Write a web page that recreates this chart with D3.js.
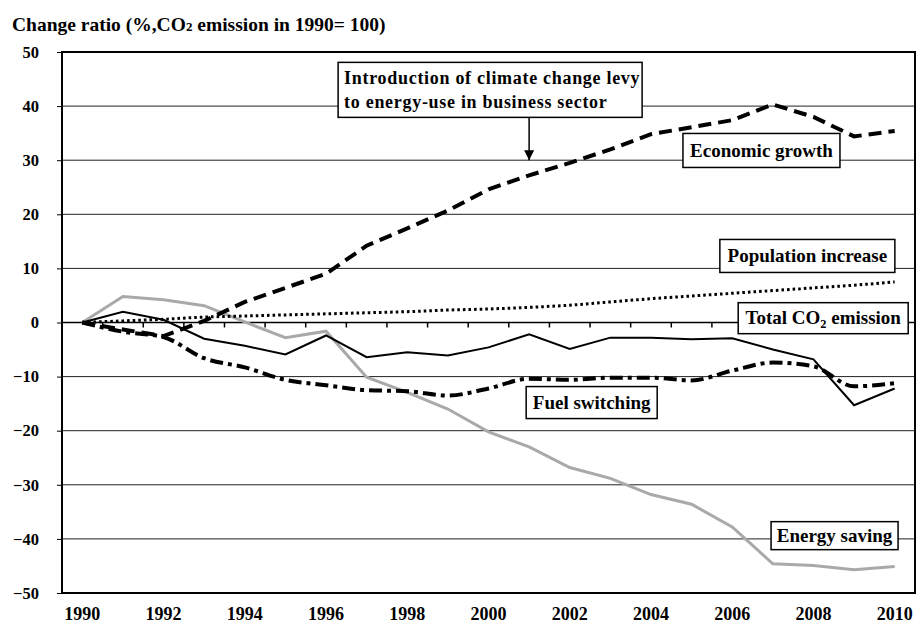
<!DOCTYPE html>
<html>
<head>
<meta charset="utf-8">
<script src="https://cdn.jsdelivr.net/npm/d3@7"></script>
<style>
  body { margin: 0; background: #fff; }
  svg text {
    font-family: "Liberation Serif", "Times New Roman", serif;
    font-weight: bold;
    fill: #000;
  }
</style>
</head>
<body>
<svg class="co2-chart" width="916" height="623"></svg>
<script>
// categories
const years = [1990, 1991, 1992, 1993, 1994, 1995, 1996, 1997, 1998, 1999, 2000,
  2001, 2002, 2003, 2004, 2005, 2006, 2007, 2008, 2009, 2010];
const xTickLabels = ['1990', '1992', '1994', '1996', '1998', '2000',
  '2002', '2004', '2006', '2008', '2010'];
const yTicks = [50, 40, 30, 20, 10, 0, -10, -20, -30, -40, -50];

// series (change ratio, %)
const totalCo2 = [0, 2.0, 0.5, -3.0, -4.3, -5.9, -2.4, -6.4, -5.5, -6.1, -4.6,
  -2.2, -4.9, -2.8, -2.8, -3.1, -2.9, -5.0, -6.8, -15.3, -12.2];
const economicGrowth = [0, -1.3, -2.5, 0.3, 3.8, 6.4, 9.0, 14.2, 17.4, 20.7, 24.6,
  27.2, 29.5, 32.0, 34.8, 36.1, 37.4, 40.3, 38.0, 34.4, 35.4];
const populationIncrease = [0, 0.3, 0.6, 1.0, 1.2, 1.4, 1.6, 1.8, 2.0, 2.3, 2.5,
  2.8, 3.2, 3.8, 4.4, 4.9, 5.4, 5.9, 6.4, 6.9, 7.5];
const fuelSwitching = [0, -1.7, -2.7, -6.6, -8.3, -10.6, -11.6, -12.5, -12.7, -13.5, -12.2,
  -10.4, -10.6, -10.2, -10.2, -10.7, -8.9, -7.4, -8.1, -11.8, -11.2];
const energySaving = [0, 4.8, 4.2, 3.1, 0.1, -2.8, -1.6, -10.1, -12.9, -16.0, -20.2,
  -23.0, -26.8, -28.8, -31.8, -33.6, -37.8, -44.6, -44.9, -45.7, -45.1];

const margin = { top: 52, right: 1, bottom: 30, left: 62 };
const width = 916 - margin.left - margin.right;
const height = 623 - margin.top - margin.bottom;

const svg = d3.select('.co2-chart');

// title
const title = svg.append('text')
  .attr('x', 12)
  .attr('y', 31)
  .style('font-size', '19.5px');
title.append('tspan').text('Change ratio (%,CO');
title.append('tspan').style('font-size', '13px').text('2');
title.append('tspan').text(' emission in 1990= 100)');

const surface = svg.append('g')
  .attr('transform', `translate(${margin.left}, ${margin.top})`);

// scales
const x = d3.scaleBand().domain(years).range([0, width]).padding(0);
const y = d3.scaleLinear().domain([-50, 50]).range([height, 0]);
const cx = yr => x(yr) + x.bandwidth() / 2;
const xAt = yr => cx(years[0]) + (yr - years[0]) * x.step();

// grid lines
surface.append('g')
  .selectAll('line')
  .data(yTicks)
  .join('line')
  .attr('x1', 0)
  .attr('x2', width)
  .attr('y1', d => y(d))
  .attr('y2', d => y(d))
  .attr('stroke', d => (d === 0 ? '#000' : '#222'))
  .attr('stroke-width', d => (d === 0 ? 1.6 : 1));

// frame
surface.append('rect')
  .attr('width', width)
  .attr('height', height)
  .attr('fill', 'none')
  .attr('stroke', '#000')
  .attr('stroke-width', 2);

// Add the Y Axis
const yAxis = surface.append('g')
  .call(d3.axisLeft(y).tickValues(yTicks).tickSize(5).tickPadding(18));
yAxis.select('.domain').remove();
yAxis.selectAll('line').attr('stroke', '#000');
yAxis.selectAll('text')
  .attr('fill', '#000')
  .style('font-size', '16.5px')
  .attr('font-family', null);

// category ticks on the zero line
surface.append('g')
  .selectAll('line')
  .data(years.slice(1))
  .join('line')
  .attr('x1', d => x(d))
  .attr('x2', d => x(d))
  .attr('y1', y(0))
  .attr('y2', y(0) + 5)
  .attr('stroke', '#000')
  .attr('stroke-width', 1.5);

// Add the X labels
surface.append('g')
  .selectAll('text')
  .data(xTickLabels)
  .join('text')
  .attr('x', d => cx(+d))
  .attr('y', height + 27)
  .attr('text-anchor', 'middle')
  .style('font-size', '18px')
  .text(d => d);

// lines
const series = [
  { values: energySaving, stroke: '#a9a9a9', width: 3, dash: null, curve: d3.curveLinear },
  { values: populationIncrease, stroke: '#000', width: 3, dash: '2.6,3', curve: d3.curveMonotoneX },
  { values: economicGrowth, stroke: '#000', width: 4, dash: '13,7', curve: d3.curveLinear },
  { values: fuelSwitching, stroke: '#000', width: 4, dash: '13,5,4,5', curve: d3.curveMonotoneX },
  { values: totalCo2, stroke: '#000', width: 2, dash: null, curve: d3.curveLinear },
];

series.forEach((s) => {
  const line = d3.line()
    .x((d, i) => cx(years[i]))
    .y(d => y(d))
    .curve(s.curve);

  surface.append('path')
    .datum(s.values)
    .attr('d', line)
    .attr('fill', 'none')
    .attr('stroke', s.stroke)
    .attr('stroke-width', s.width)
    .attr('stroke-dasharray', s.dash);
});

// arrow to 2001
surface.append('defs').append('marker')
  .attr('id', 'arrow-head')
  .attr('viewBox', '0 0 10 10')
  .attr('refX', 10)
  .attr('refY', 5)
  .attr('markerWidth', 10)
  .attr('markerHeight', 10)
  .attr('markerUnits', 'userSpaceOnUse')
  .attr('orient', 'auto')
  .append('path')
  .attr('d', 'M0,0L10,5L0,10Z')
  .attr('fill', '#000');

surface.append('line')
  .attr('x1', xAt(2001))
  .attr('x2', xAt(2001))
  .attr('y1', y(43) + 28)
  .attr('y2', y(30))
  .attr('stroke', '#000')
  .attr('stroke-width', 1.5)
  .attr('marker-end', 'url(#arrow-head)');

// label boxes
const labels = [
  { lines: ['Introduction of climate change levy', 'to energy-use in business sector'],
    year: 2000.04, value: 43, w: 304, h: 55, size: 18, spacing: 0.7, anchor: 'start' },
  { lines: ['Economic growth'], year: 2006.72, value: 31.8, w: 157, h: 34, size: 19 },
  { lines: ['Population increase'], year: 2007.85, value: 12.3, w: 175, h: 33, size: 19 },
  { lines: ['Total CO|2| emission'], year: 2008.24, value: 0.8, w: 170, h: 31, size: 19 },
  { lines: ['Fuel switching'], year: 2002.54, value: -14.8, w: 131, h: 32, size: 19 },
  { lines: ['Energy saving'], year: 2008.52, value: -39.4, w: 127, h: 28, size: 19 },
];

labels.forEach((l) => {
  const bx = xAt(l.year);
  const by = y(l.value);
  const g = surface.append('g');

  g.append('rect')
    .attr('x', bx - l.w / 2)
    .attr('y', by - l.h / 2)
    .attr('width', l.w)
    .attr('height', l.h)
    .attr('fill', '#fff')
    .attr('stroke', '#000')
    .attr('stroke-width', 1.5);

  const lineGap = 24;
  l.lines.forEach((txt, i) => {
    const t = g.append('text')
      .attr('x', l.anchor === 'start' ? bx - l.w / 2 + 6 : bx)
      .attr('y', by + (i - (l.lines.length - 1) / 2) * lineGap + l.size * 0.33)
      .attr('text-anchor', l.anchor || 'middle')
      .style('font-size', `${l.size}px`)
      .style('letter-spacing', `${l.spacing || 0}px`);

    txt.split('|').forEach((part, j) => {
      const span = t.append('tspan').text(part);
      if (j === 1) {
        span.attr('dy', 4).style('font-size', `${l.size * 0.65}px`);
      } else if (j === 2) {
        span.attr('dy', -4);
      }
    });
  });
});
</script>
</body>
</html>
